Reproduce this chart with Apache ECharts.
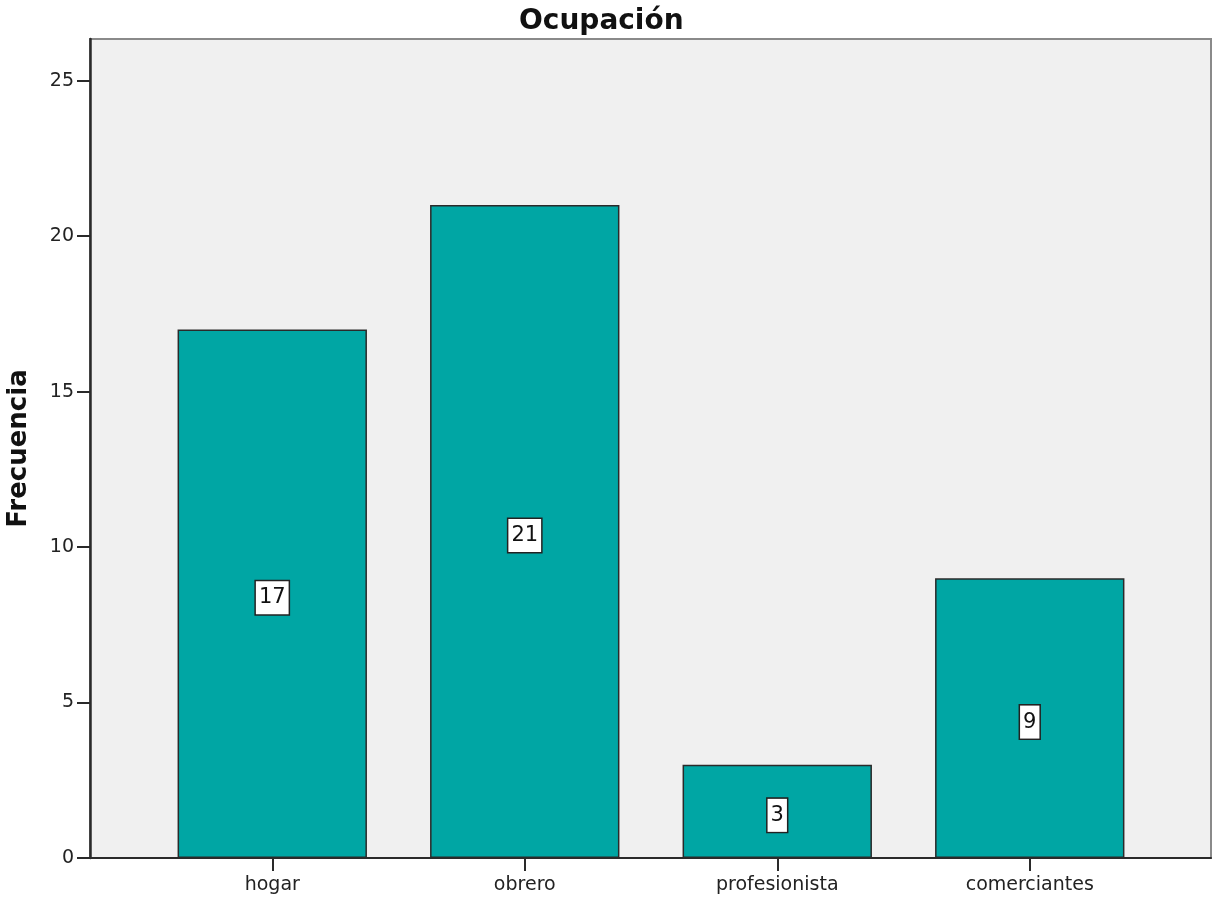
<!DOCTYPE html>
<html>
<head>
<meta charset="utf-8">
<script src="https://cdn.jsdelivr.net/npm/echarts@6/dist/echarts.min.js"></script>
<style>
html,body{margin:0;padding:0;background:#fff;}
#chart{width:1212px;height:903px;}
</style>
</head>
<body>
<div id="chart"></div>
<script>
const categories = ['hogar', 'obrero', 'profesionista', 'comerciantes'];
const frecuencia = [17, 21, 3, 9];
const yTicks = [0, 5, 10, 15, 20, 25];

const FONT = 'DejaVu Sans';
const TXT = '#222';
const yMax = 26.34;

const chart = echarts.init(document.getElementById('chart'), null, {renderer: 'canvas'});
chart.setOption({
  animation: false,
  backgroundColor: '#ffffff',
  title: {
    text: 'Ocupación',
    left: 514,
    top: 3,
    textStyle: {fontFamily: FONT, fontWeight: 'bold', fontSize: 28, color: '#111'}
  },
  grid: [
    {left: 90, right: 1, top: 39, bottom: 45, show: true, backgroundColor: '#f0f0f0', borderColor: '#8a8a8a', borderWidth: 2, containLabel: false, outerBoundsMode: 'none'},
    {left: 146, right: 56, top: 39, bottom: 45, containLabel: false, outerBoundsMode: 'none'}
  ],
  xAxis: [
    {type: 'value', gridIndex: 0, min: 0, max: 1,
     axisLine: {show: true, onZero: false, lineStyle: {color: '#2a2a2a', width: 2}},
     axisTick: {show: false}, axisLabel: {show: false}, splitLine: {show: false}},
    {type: 'category', gridIndex: 1, data: categories,
     axisLine: {show: false},
     axisTick: {show: true, alignWithLabel: true, length: 13, lineStyle: {color: '#2a2a2a', width: 2}},
     axisLabel: {fontFamily: FONT, fontSize: 19, color: TXT, margin: 18},
     splitLine: {show: false}}
  ],
  yAxis: [
    {type: 'value', gridIndex: 0, min: 0, max: yMax, interval: 5,
     name: 'Frecuencia', nameLocation: 'middle', nameGap: 58,
     nameTextStyle: {fontFamily: FONT, fontWeight: 'bold', fontSize: 26, color: '#111'},
     axisLine: {show: true, onZero: false, lineStyle: {color: '#2a2a2a', width: 2.5}},
     axisTick: {show: true, length: 13, customValues: yTicks, lineStyle: {color: '#2a2a2a', width: 2}},
     axisLabel: {fontFamily: FONT, fontSize: 19, color: TXT, margin: 16, customValues: yTicks},
     splitLine: {show: false}},
    {type: 'value', gridIndex: 1, min: 0, max: yMax, show: false}
  ],
  series: [{
    type: 'bar',
    xAxisIndex: 1, yAxisIndex: 1,
    data: frecuencia,
    barWidth: '75%',
    itemStyle: {color: '#00a6a4', borderColor: '#2a2a2a', borderWidth: 1.5},
    label: {
      show: true, position: 'inside', offset: [0, 4],
      fontFamily: FONT, fontSize: 21, color: '#111',
      backgroundColor: '#ffffff', borderColor: '#222', borderWidth: 1.5,
      padding: [6, 3, 6, 3]
    }
  }]
});
</script>
</body>
</html>
